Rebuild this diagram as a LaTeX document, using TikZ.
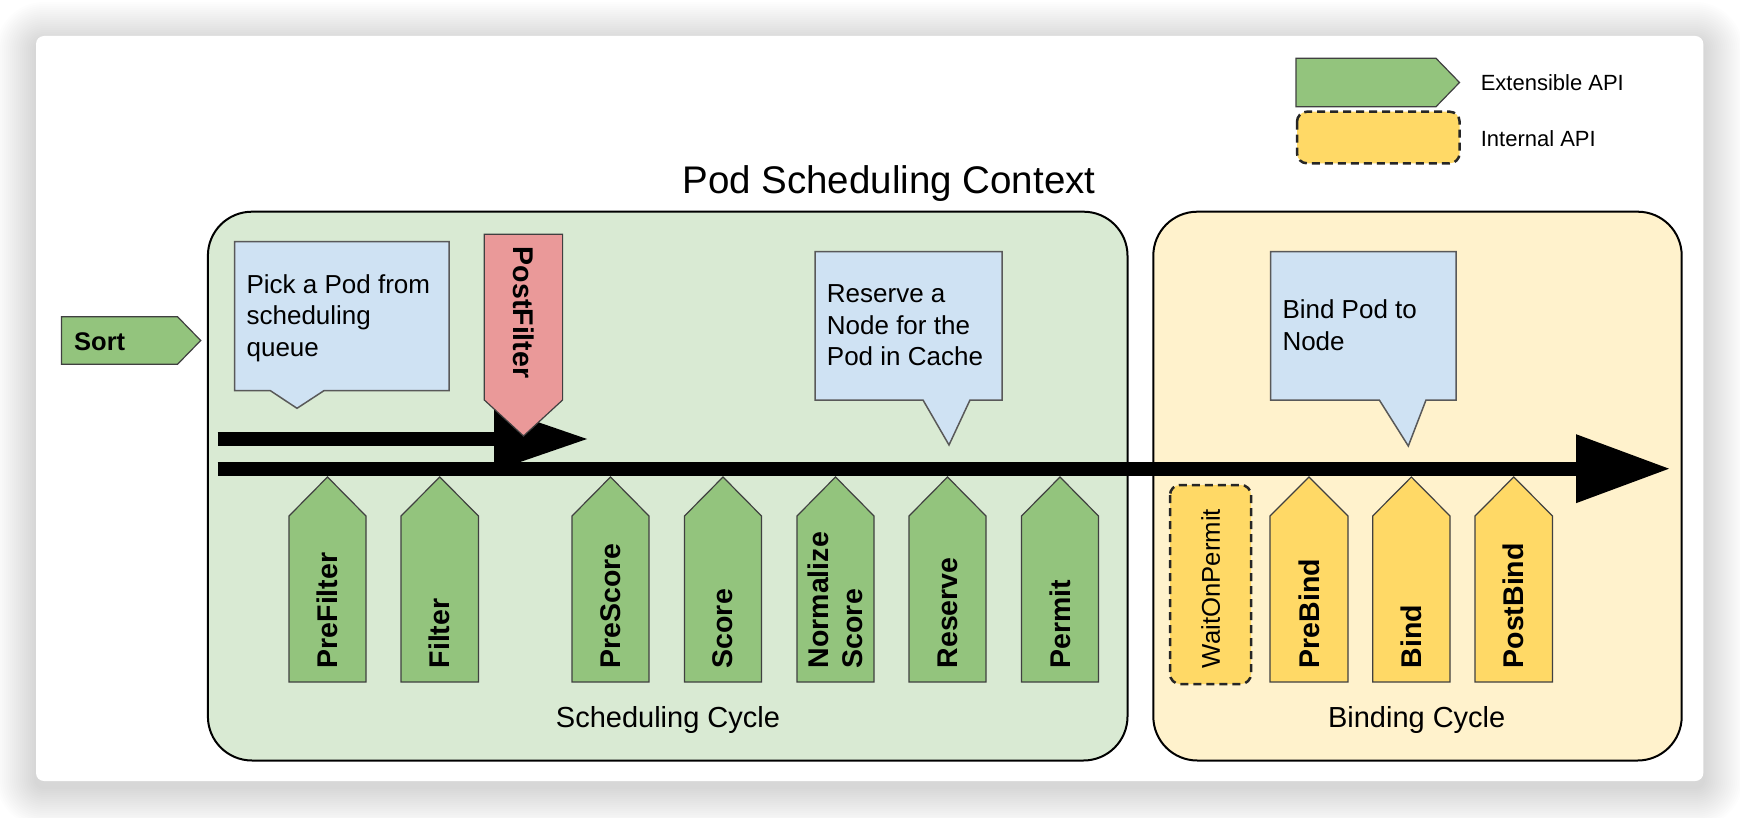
\documentclass[tikz,border=0pt]{standalone}
\usepackage{fontspec}
\setmainfont{Liberation Sans}
\usetikzlibrary{arrows.meta}
\definecolor{schedbg}{HTML}{D9EAD3}
\definecolor{bindbg}{HTML}{FFF2CC}
\definecolor{callblue}{HTML}{CFE2F3}
\definecolor{stggreen}{HTML}{93C47D}
\definecolor{stgyellow}{HTML}{FFD966}
\definecolor{stgred}{HTML}{EA9999}
\definecolor{edgegray}{HTML}{404040}
\definecolor{callgray}{HTML}{595959}
\newcommand\fstage{\fontsize{28.5}{34}\selectfont\bfseries}
\newcommand\fcall{\fontsize{26}{31.4}\selectfont}
\newcommand\fcyc{\fontsize{29}{34}\selectfont}
\newcommand\ftitle{\fontsize{38.5}{44}\selectfont}
\newcommand\flegend{\fontsize{22}{26}\selectfont}
\newcommand\fsort{\fontsize{25.5}{30}\selectfont\bfseries}
\newcommand\fwait{\fontsize{25.7}{30}\selectfont}
\newcommand\upstg[5]{%
  \draw[stgline, fill=#4] (#2,682) -- (#2,516) -- ({(#2+#3)/2},477) -- (#3,516) -- (#3,682) -- cycle;
  \node[stglbl] (#1) at ({(#2+#3)/2},668.5) {#5};}
\begin{document}
\begin{tikzpicture}[x=1pt,y=-1pt,
  stgline/.style={draw=edgegray, line width=1.2pt, line join=miter},
  stglbl/.style={rotate=90, anchor=west, inner sep=0pt, font=\fstage, align=left},
  callbox/.style={draw=callgray, line width=1.5pt, fill=callblue, line join=miter},
  calltext/.style={anchor=base west, align=left, inner sep=0pt, font=\fcall},
  cycbox/.style={draw=black, line width=2pt, rounded corners=44pt},
  cyclbl/.style={anchor=base, inner sep=0pt, font=\fcyc},
  flowarrow/.style={line width=14pt, draw=black},
  dashbox/.style={draw=black!85, line width=2.5pt, dash pattern=on 8pt off 5pt, rounded corners=10pt, fill=stgyellow}]
\useasboundingbox (0,0) rectangle (1740,818);
\fill[white] (0,0) rectangle (1740,818);
% soft shadow of the card
\foreach \e in {2,4,...,40} {
  \fill[black, opacity=0.0085, rounded corners=8pt+\e pt]
    (36-\e,42-\e) rectangle (1703.3+\e,787+\e);
}
% card
\fill[white, rounded corners=8pt] (36,36) rectangle (1703.3,781);
% cycle containers
\draw[cycbox, fill=schedbg] (207.9,211.7) rectangle (1127.5,760.5);
\draw[cycbox, fill=bindbg] (1153.3,211.7) rectangle (1681.7,760.5);
\node[anchor=base, inner sep=0pt, font=\ftitle] (title) at (889,193.3) {Pod Scheduling Context};
\node[cyclbl] (schedlbl) at (668,727) {Scheduling Cycle};
\node[cyclbl] (bindlbl) at (1416.7,727.5) {Binding Cycle};
% callouts
\draw[callbox] (234.6,241.7) -- (449,241.7) -- (449,390.7) -- (323.9,390.7) -- (297,408.3) -- (270.4,390.7) -- (234.6,390.7) -- cycle;
\node[calltext] (pick) at (246.4,356.1) {Pick a Pod from\\scheduling\\queue};
\draw[callbox] (815,251.7) -- (1002,251.7) -- (1002,400) -- (970,400) -- (949,445) -- (923,400) -- (815,400) -- cycle;
\node[calltext] (reserve) at (826.7,365.5) {Reserve a\\Node for the\\Pod in Cache};
\draw[callbox] (1270.7,251.7) -- (1456,251.7) -- (1456,400) -- (1426,400) -- (1408.3,446) -- (1379.3,400) -- (1270.7,400) -- cycle;
\node[calltext] (bindpod) at (1282.3,350.4) {Bind Pod to\\Node};
% flow arrows
\coordinate (mainS) at (217.5,468.7);
\coordinate (mainE) at (1669,468.7);
\coordinate (upS) at (217.5,439);
\coordinate (upE) at (587,439);
\draw[flowarrow, -{Triangle[length=93pt,width=69pt,line width=0pt]}] (mainS) -- (mainE);
\draw[flowarrow, -{Triangle[length=93pt,width=64pt,line width=0pt]}] (upS) -- (upE);
% PostFilter
\draw[stgline, fill=stgred] (484.3,234.3) -- (562.6,234.3) -- (562.6,400) -- (523.5,436) -- (484.3,400) -- cycle;
\node[rotate=-90, anchor=west, inner sep=0pt, font=\fstage] (postfilter) at (523.5,246.7) {PostFilter};
% scheduling stages
\upstg{prefilter}{289}{366}{stggreen}{PreFilter}
\upstg{filter}{401}{478.5}{stggreen}{Filter}
\upstg{prescore}{572}{649}{stggreen}{PreScore}
\upstg{score}{684.5}{761.5}{stggreen}{Score}
\upstg{normscore}{797}{874}{stggreen}{Normalize\\Score}
\upstg{reservestg}{909}{986}{stggreen}{Reserve}
\upstg{permit}{1021.5}{1098.5}{stggreen}{Permit}
% binding stages
\draw[dashbox] (1170,485) rectangle (1251,684);
\node[rotate=90, anchor=west, inner sep=0pt, font=\fwait] (wait) at (1210.6,668.3) {WaitOnPermit};
\upstg{prebind}{1270}{1348}{stgyellow}{PreBind}
\upstg{bind}{1372.7}{1450}{stgyellow}{Bind}
\upstg{postbind}{1475}{1552.5}{stgyellow}{PostBind}
% Sort
\draw[stgline, fill=stggreen] (61.4,316.7) -- (177.5,316.7) -- (200.7,340.5) -- (177.5,364.3) -- (61.4,364.3) -- cycle;
\node[anchor=base west, inner sep=0pt, font=\fsort] (sort) at (74,350) {Sort};
% legend
\draw[stgline, fill=stggreen] (1296,58.3) -- (1436,58.3) -- (1459.5,82.5) -- (1436,106.7) -- (1296,106.7) -- cycle;
\node[anchor=base west, inner sep=0pt, font=\flegend] (legext) at (1480.6,90.7) {Extensible API};
\draw[dashbox] (1297,111.7) rectangle (1459.6,163.3);
\node[anchor=base west, inner sep=0pt, font=\flegend] (legint) at (1480.6,146.7) {Internal API};
\end{tikzpicture}
\end{document}
